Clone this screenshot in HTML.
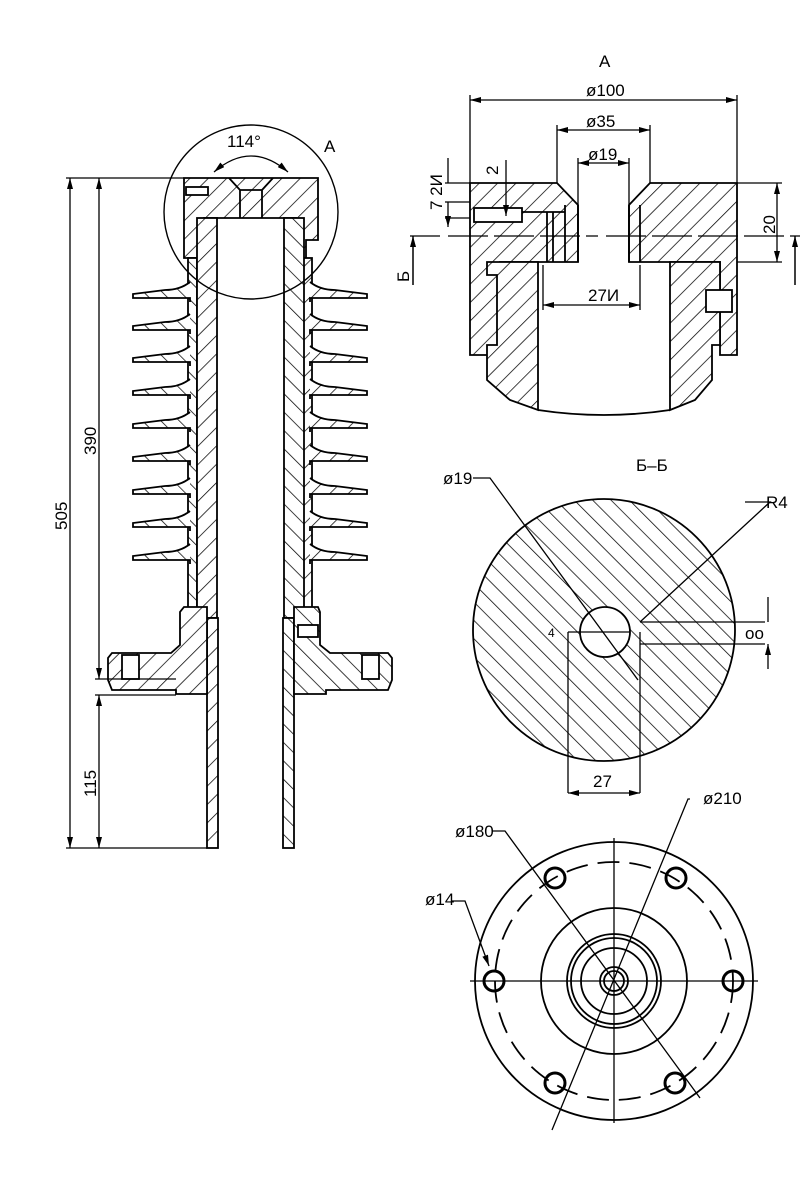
<!DOCTYPE html>
<html><head><meta charset="utf-8"><style>
html,body{margin:0;padding:0;background:#fff}
svg{display:block}
text{font-family:"Liberation Sans Narrow","Liberation Sans","DejaVu Sans",sans-serif;font-size:17px;fill:#000}
</style></head><body>
<svg width="800" height="1200" viewBox="0 0 800 1200" xmlns="http://www.w3.org/2000/svg">
<defs>
<pattern id="h" width="13" height="13" patternUnits="userSpaceOnUse" patternTransform="rotate(45)">
<rect width="13" height="13" fill="#fff"/><line x1="0" y1="0" x2="0" y2="13" stroke="#000" stroke-width="1.5"/></pattern>
<pattern id="h2" width="13" height="13" patternUnits="userSpaceOnUse" patternTransform="rotate(-45)">
<rect width="13" height="13" fill="#fff"/><line x1="0" y1="0" x2="0" y2="13" stroke="#000" stroke-width="1.5"/></pattern>
<marker id="a" markerWidth="11" markerHeight="6" refX="11" refY="3" orient="auto-start-reverse" markerUnits="userSpaceOnUse"><path d="M0,0 L11,3 L0,6z" fill="#000"/></marker>
<g id="shedL"><path d="M190,-14 Q180,-6 165,-6 L133,-2 L133,2 L190,2 L190,6" fill="url(#h2)" stroke="#000" stroke-width="1.8"/></g>
<g id="shedR"><path d="M310,-14 Q320,-6 335,-6 L367,-2 L367,2 L310,2 L310,6" fill="url(#h)" stroke="#000" stroke-width="1.8"/></g>
</defs>
<g stroke="#000" stroke-width="1.8" fill="none">
<path d="M184,178 L318,178 L318,240 L306,240 L306,258 L296,258 L296,218 L204,218 L204,258 L184,258 Z" fill="url(#h)"/>
<path d="M229,178 L240,190 L240,218 M273,178 L262,190 L262,218 M240,190 L262,190"/>
<rect x="186" y="187" width="22" height="8" fill="#fff"/>
<rect x="188" y="258" width="9" height="350" fill="url(#h2)"/>
<rect x="303" y="258" width="9" height="350" fill="url(#h)"/>
<use href="#shedL" y="296"/><use href="#shedL" y="328"/><use href="#shedL" y="360"/><use href="#shedL" y="393"/><use href="#shedL" y="426"/><use href="#shedL" y="459"/><use href="#shedL" y="492"/><use href="#shedL" y="525"/><use href="#shedL" y="558"/>
<use href="#shedR" y="296"/><use href="#shedR" y="328"/><use href="#shedR" y="360"/><use href="#shedR" y="393"/><use href="#shedR" y="426"/><use href="#shedR" y="459"/><use href="#shedR" y="492"/><use href="#shedR" y="525"/><use href="#shedR" y="558"/>
<rect x="197" y="218" width="20" height="400" fill="url(#h)"/>
<rect x="284" y="218" width="20" height="400" fill="url(#h2)"/>
<rect x="207" y="618" width="11" height="230" fill="url(#h)"/>
<rect x="283" y="618" width="11" height="230" fill="url(#h2)"/>
<path d="M207,607 L184,607 L180,612 L180,645 L171,653 L112,653 L108,658 L108,680 L112,690 L176,690 L176,694 L207,694 Z" fill="url(#h)"/>
<path d="M294,607 L318,607 L320,612 L320,645 L330,653 L388,653 L392,658 L392,680 L388,690 L326,690 L326,694 L294,694 Z" fill="url(#h2)"/>
<rect x="122" y="655" width="17" height="24" fill="#fff"/>
<rect x="362" y="655" width="17" height="24" fill="#fff"/>
<rect x="298" y="625" width="20" height="12" fill="#fff"/>
<circle cx="251" cy="212" r="87" stroke-width="1.4"/>
<path d="M214,172 Q251,140 288,172" marker-start="url(#a)" marker-end="url(#a)" stroke-width="1.3"/>
<path d="M66,178 L184,178 M95,679 L176,679 M95,695 L176,695 M66,848 L207,848" stroke-width="1.3"/>
<path d="M70,178 L70,848" marker-start="url(#a)" marker-end="url(#a)" stroke-width="1.3"/>
<path d="M99,178 L99,679" marker-start="url(#a)" marker-end="url(#a)" stroke-width="1.3"/>
<path d="M99,695 L99,848" marker-start="url(#a)" marker-end="url(#a)" stroke-width="1.3"/>

<path d="M470,183 L557,183 L578,205 L578,262 L500,262 L500,355 L470,355 Z" fill="url(#h)"/>
<path d="M650,183 L737,183 L737,355 L720,355 L720,262 L629,262 L629,205 Z" fill="url(#h)"/>
<rect x="474" y="208" width="48" height="14" fill="#fff"/>
<path d="M522,212 L565,212 M547,212 L547,262 M553,212 L553,262 M565,205 L565,262 M578,205 L578,262 M629,205 L629,262 M640,205 L640,262"/>
<path d="M487,262 L538,262 L538,410 L510,400 L487,380 L487,345 L497,345 L497,275 L487,275 Z" fill="url(#h)"/>
<path d="M670,262 L720,262 L720,345 L712,345 L712,380 L695,400 L670,410 Z" fill="url(#h)"/>
<rect x="706" y="290" width="26" height="22" fill="#fff"/>
<path d="M538,410 Q604,420 670,410"/>
<path d="M470,100 L737,100" marker-start="url(#a)" marker-end="url(#a)" stroke-width="1.3"/>
<path d="M470,95 L470,183 M737,95 L737,183 M557,125 L557,183 M650,125 L650,183 M578,158 L578,205 M629,158 L629,205" stroke-width="1.3"/>
<path d="M557,130 L650,130" marker-start="url(#a)" marker-end="url(#a)" stroke-width="1.3"/>
<path d="M578,163 L629,163" marker-start="url(#a)" marker-end="url(#a)" stroke-width="1.3"/>
<path d="M543,265 L543,310 M640,265 L640,310" stroke-width="1.3"/>
<path d="M543,305 L640,305" marker-start="url(#a)" marker-end="url(#a)" stroke-width="1.3"/>
<path d="M410,236 L440,236 M448,236 L598,236 M606,236 L800,236" stroke-width="1.3" stroke-dasharray="40,6"/>
<path d="M413,285 L413,236" marker-end="url(#a)" stroke-width="1.5"/>
<path d="M795,285 L795,236" marker-end="url(#a)" stroke-width="1.5"/>
<path d="M737,183 L782,183 M737,262 L782,262" stroke-width="1.3"/>
<path d="M777,183 L777,262" marker-start="url(#a)" marker-end="url(#a)" stroke-width="1.3"/>
<path d="M445,183 L470,183 M445,202 L470,202 M445,218 L470,218" stroke-width="1.3"/>
<path d="M448,158 L448,183 M448,202 L448,227" marker-end="url(#a)" stroke-width="1.3"/>
<path d="M506,160 L506,216" stroke-width="1.3" marker-end="url(#a)"/>

<circle cx="604" cy="630" r="131" fill="url(#h2)"/>
<path d="M568,632 L568,793 M640,632 L640,793" stroke-width="1.3"/>
<circle cx="605" cy="632" r="25" fill="#fff"/>
<path d="M568,632 L630,632 M640,622 L765,622 M640,644 L765,644" stroke-width="1.3"/>
<path d="M473,478 L490,478 L638,680 M745,502 L770,502 L640,622" stroke-width="1.3"/>
<path d="M768,597 L768,622 M768,669 L768,644" marker-end="url(#a)" stroke-width="1.3"/>
<path d="M568,793 L640,793" marker-start="url(#a)" marker-end="url(#a)" stroke-width="1.3"/>

<circle cx="614" cy="981" r="139"/>
<circle cx="614" cy="981" r="119" stroke-dasharray="22,10"/>
<circle cx="614" cy="981" r="73"/>
<circle cx="614" cy="981" r="47"/>
<circle cx="614" cy="981" r="43"/>
<circle cx="614" cy="981" r="33"/>
<circle cx="614" cy="981" r="14"/>
<circle cx="614" cy="981" r="10"/>
<g stroke-width="3">
<circle cx="555" cy="878" r="10"/><circle cx="676" cy="878" r="10"/>
<circle cx="494" cy="981" r="10"/><circle cx="733" cy="981" r="10"/>
<circle cx="555" cy="1083" r="10"/><circle cx="675" cy="1083" r="10"/>
</g>
<path d="M470,981 L758,981 M614,838 L614,1123" stroke-width="1.3"/>
<path d="M492,831 L505,831 L700,1098 M690,799 L688,799 L552,1130" stroke-width="1.3"/>
<path d="M452,901 L465,901 L489,966" stroke-width="1.3" marker-end="url(#a)"/>
</g>
<text x="227" y="147">114°</text>
<text x="324" y="152">A</text>
<text x="599" y="67">A</text>
<text x="586" y="96">ø100</text>
<text x="586" y="127">ø35</text>
<text x="588" y="160">ø19</text>
<text x="588" y="301">27И</text>
<text transform="translate(67,530) rotate(-90)">505</text>
<text transform="translate(96,455) rotate(-90)">390</text>
<text transform="translate(96,797) rotate(-90)">115</text>
<text transform="translate(498,175) rotate(-90)">2</text>
<text transform="translate(442,210) rotate(-90)">7 2И</text>
<text transform="translate(775,234) rotate(-90)">20</text>
<text transform="translate(409,282) rotate(-90)">Б</text>
<text x="636" y="471">Б–Б</text>
<text x="443" y="484">ø19</text>
<text x="766" y="508">R4</text>
<text x="745" y="639">оо</text>
<text x="548" y="637" style="font-size:12px">4</text>
<text x="593" y="787">27</text>
<text x="703" y="804">ø210</text>
<text x="455" y="837">ø180</text>
<text x="425" y="905">ø14</text>
</svg>
</body></html>
